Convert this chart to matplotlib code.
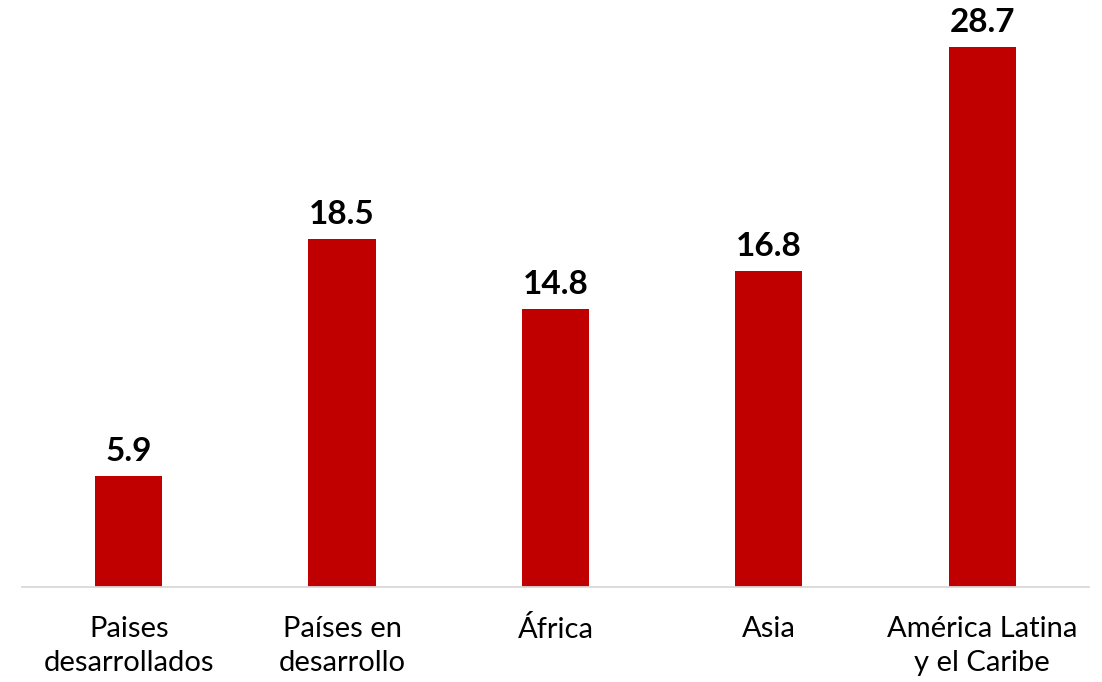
import numpy as np
import matplotlib.pyplot as plt

# Datos del gráfico
categorias = ['Paises\ndesarrollados', 'Países en\ndesarrollo', 'África', 'Asia',
              'América Latina\ny el Caribe']
valores = [5.9, 18.5, 14.8, 16.8, 28.7]

plt.rcParams['font.family'] = ['Lato', 'DejaVu Sans']

fig = plt.figure(figsize=(11.02, 6.82), dpi=100)
ax = fig.add_axes([0.02, 0.139, 0.968, 0.861])

x = np.arange(len(categorias))
barras = ax.bar(x, valores, width=0.315, color='#C00000')

for b, v in zip(barras, valores):
    ax.annotate(f'{v:.1f}', (b.get_x() + b.get_width() / 2, v),
                xytext=(0, 7), textcoords='offset points',
                ha='center', va='bottom', fontsize=24, fontweight='bold')

ax.set_xlim(-0.5, 4.5)
ax.set_ylim(0, 31.2)
ax.set_xticks(x)
ax.set_xticklabels(categorias, fontsize=21, linespacing=1.35, va='top')
ax.tick_params(axis='x', length=0, pad=21)
ax.set_yticks([])
for s in ['top', 'right', 'left']:
    ax.spines[s].set_visible(False)
ax.spines['bottom'].set_color('#D9D9D9')
ax.spines['bottom'].set_linewidth(1.3)

fig.savefig('out.png', dpi=100)
